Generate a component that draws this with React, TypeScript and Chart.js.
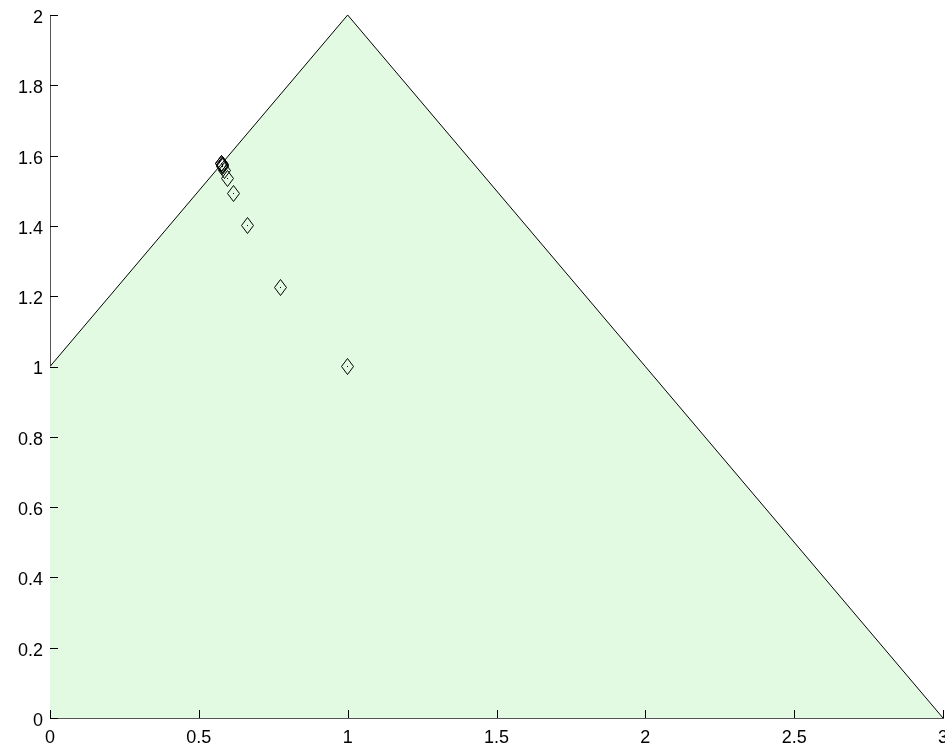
import React, { useEffect, useRef } from "react";
import { Chart, registerables } from "chart.js";

Chart.register(...registerables);

// Feasible region boundary (filled down to y = 0)
const regionX = [0, 1, 3];
const regionY = [1, 2, 0];

// Iterates (diamond markers)
const iterX = [1, 0.775, 0.663, 0.616, 0.596, 0.586, 0.581, 0.579, 0.578, 0.577, 0.577];
const iterY = [1, 1.225, 1.401, 1.493, 1.536, 1.558, 1.568, 1.573, 1.575, 1.577, 1.577];

const xTicks = [0, 0.5, 1, 1.5, 2, 2.5, 3];
const xTickLabels = ["0", "0.5", "1", "1.5", "2", "2.5", "3"];
const yTicks = [0, 0.2, 0.4, 0.6, 0.8, 1, 1.2, 1.4, 1.6, 1.8, 2];
const yTickLabels = ["0", "0.2", "0.4", "0.6", "0.8", "1", "1.2", "1.4", "1.6", "1.8", "2"];

function makeDiamond(): HTMLCanvasElement {
  const c = document.createElement("canvas");
  c.width = 13;
  c.height = 17;
  const g = c.getContext("2d")!;
  g.strokeStyle = "#000";
  g.lineWidth = 1;
  g.beginPath();
  g.moveTo(6.5, 0.5);
  g.lineTo(12.5, 8.5);
  g.lineTo(6.5, 16.5);
  g.lineTo(0.5, 8.5);
  g.closePath();
  g.stroke();
  g.fillStyle = "#000";
  g.fillRect(6, 8, 1, 1);
  return c;
}

const crispImages = {
  id: "crispImages",
  beforeDatasetsDraw(chart: any) {
    chart.ctx.imageSmoothingEnabled = false;
  },
  afterDatasetsDraw(chart: any) {
    chart.ctx.imageSmoothingEnabled = true;
  },
};

const tickMarks = {
  id: "tickMarks",
  afterDraw(chart: any) {
    const { ctx, chartArea, scales } = chart;
    ctx.save();
    ctx.strokeStyle = "#000";
    ctx.lineWidth = 1;
    ctx.beginPath();
    yTicks.forEach((v) => {
      const p = Math.round(scales.y.getPixelForValue(v)) + 0.5;
      ctx.moveTo(chartArea.left, p);
      ctx.lineTo(chartArea.left + 8, p);
    });
    xTicks.forEach((v) => {
      const p = Math.round(scales.x.getPixelForValue(v)) + 0.5;
      ctx.moveTo(p, chartArea.bottom);
      ctx.lineTo(p, chartArea.bottom - 8);
    });
    ctx.stroke();
    ctx.restore();
  },
};

export default function App() {
  const ref = useRef<HTMLCanvasElement>(null);
  useEffect(() => {
    document.body.style.margin = "0";
    const diamond = makeDiamond();
    const font = { family: "'Liberation Sans', Arial, sans-serif", size: 18 };
    const chart = new Chart(ref.current!, {
      type: "scatter",
      data: {
        datasets: [
          {
            data: iterX.map((x, i) => ({ x, y: iterY[i] })),
            pointStyle: diamond as any,
            pointRadius: 7,
            showLine: false,
            order: 0,
          },
          {
            data: regionX.map((x, i) => ({ x, y: regionY[i] })),
            showLine: true,
            borderColor: "#000",
            borderWidth: 1,
            pointRadius: 0,
            fill: "origin",
            backgroundColor: "rgb(225,250,225)",
            order: 1,
          } as any,
        ],
      },
      options: {
        responsive: false,
        animation: false,
        events: [],
        layout: { autoPadding: false, padding: { left: 0, right: 2, top: 15, bottom: 0 } },
        plugins: { legend: { display: false }, tooltip: { enabled: false } },
        scales: {
          x: {
            type: "linear",
            min: 0,
            max: 3,
            afterBuildTicks: (s: any) => {
              s.ticks = xTicks.map((v) => ({ value: v }));
            },
            afterFit: (s: any) => {
              s.height = 29;
              s.paddingLeft = 0;
              s.paddingRight = 0;
            },
            grid: { display: false, drawTicks: false },
            border: { display: true, color: "#555", width: 1 },
            ticks: {
              padding: 9,
              maxRotation: 0,
              autoSkip: false,
              color: "#000",
              font,
              callback: (v: any) => xTickLabels[xTicks.indexOf(Number(v))] ?? "",
            },
          },
          y: {
            type: "linear",
            min: 0,
            max: 2,
            afterBuildTicks: (s: any) => {
              s.ticks = yTicks.map((v) => ({ value: v }));
            },
            afterFit: (s: any) => {
              s.width = 50;
              s.paddingTop = 0;
              s.paddingBottom = 0;
            },
            grid: { display: false, drawTicks: false },
            border: { display: true, color: "#555", width: 1 },
            ticks: {
              padding: 7,
              labelOffset: 3,
              autoSkip: false,
              color: "#000",
              font,
              callback: (v: any) => yTickLabels[yTicks.indexOf(Number(v))] ?? "",
            },
          },
        },
      },
      plugins: [crispImages, tickMarks],
    });
    return () => chart.destroy();
  }, []);
  return (
    <div style={{ position: "fixed", left: 0, top: 0, width: 945, height: 747, background: "#fff" }}>
      <canvas ref={ref} width={945} height={747} style={{ display: "block" }} />
    </div>
  );
}
